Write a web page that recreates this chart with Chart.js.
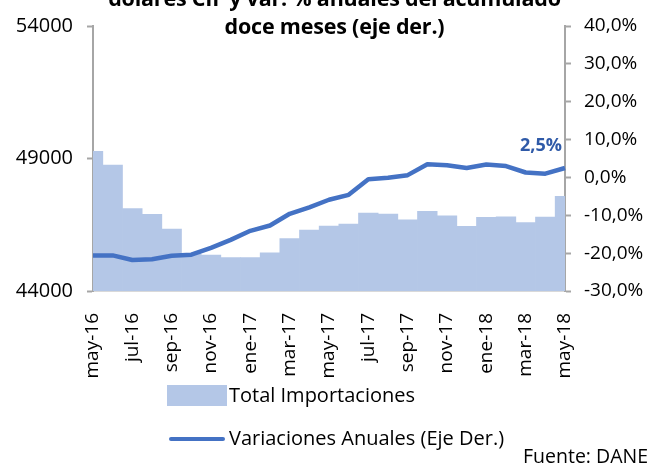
<!DOCTYPE html>
<html>
<head>
<meta charset="utf-8">
<script src="https://cdn.jsdelivr.net/npm/chart.js@4/dist/chart.umd.min.js"></script>
<style>
  html, body { margin: 0; padding: 0; background: #ffffff; }
  #wrap { position: relative; width: 667px; height: 465px; overflow: hidden; font-family: "Open Sans", sans-serif; color: #000; }
  #c { position: absolute; left: 0; top: 0; }
  .t { position: absolute; white-space: nowrap; font-size: 20px; line-height: 27px; }
  #title { left: 0; width: 669px; top: -16px; text-align: center; font-weight: bold; font-size: 21.5px; line-height: 28px; letter-spacing: -0.2px; }
  #lgBox { position: absolute; left: 167px; top: 385px; width: 60px; height: 21px; background: #b4c7e7; }
  #lgLine { position: absolute; left: 169px; top: 437px; width: 56px; height: 4px; background: #4472c4; border-radius: 2px; }
</style>
</head>
<body>
<div id="wrap">
  <canvas id="c" width="667" height="465"></canvas>
  <div id="title" class="t">dólares CIF y var. % anuales del acumulado<br>doce meses (eje der.)</div>
  <div id="lgBox"></div>
  <div class="t" style="left:229px; top:381px;">Total Importaciones</div>
  <div id="lgLine"></div>
  <div class="t" style="left:229px; top:424px;">Variaciones Anuales (Eje Der.)</div>
  <div class="t" style="left:523px; top:442px; font-size:19.5px;">Fuente: DANE</div>
</div>
<script>
const months = ['may-16','jun-16','jul-16','ago-16','sep-16','oct-16','nov-16','dic-16','ene-17','feb-17','mar-17','abr-17','may-17','jun-17','jul-17','ago-17','sep-17','oct-17','nov-17','dic-17','ene-18','feb-18','mar-18','abr-18','may-18'];
const totalImportaciones = [49270, 48750, 47110, 46890, 46340, 45390, 45360, 45260, 45260, 45440, 45980, 46300, 46450, 46530, 46940, 46900, 46690, 47010, 46840, 46440, 46780, 46800, 46580, 46790, 47570];
const variacionesAnuales = [-20.6, -20.6, -21.8, -21.6, -20.7, -20.4, -18.6, -16.5, -14.1, -12.7, -9.6, -7.9, -5.9, -4.6, -0.5, -0.1, 0.6, 3.5, 3.2, 2.5, 3.4, 3.0, 1.3, 1.0, 2.5];
const leftTicks = { min: 44000, max: 54000, step: 5000 };
const rightTicks = { min: -30, max: 40, step: 10 };

const fmtPct = v => v.toFixed(1).replace('.', ',') + '%';
const FONT = { family: '"Open Sans", sans-serif', size: 19 };

const lastLabel = {
  id: 'lastLabel',
  afterDatasetsDraw(chart) {
    const meta = chart.getDatasetMeta(1);
    const i = variacionesAnuales.length - 1;
    const pt = meta.data[i];
    const ctx = chart.ctx;
    ctx.save();
    ctx.font = 'bold 18px "Open Sans", sans-serif';
    ctx.fillStyle = '#2f5aa8';
    ctx.textAlign = 'right';
    ctx.textBaseline = 'middle';
    ctx.fillText(fmtPct(variacionesAnuales[i]), pt.x - 3, pt.y - 22);
    ctx.restore();
  }
};

new Chart(document.getElementById('c'), {
  data: {
    labels: months,
    datasets: [
      {
        type: 'bar',
        label: 'Total Importaciones',
        data: totalImportaciones,
        backgroundColor: '#b4c7e7',
        borderWidth: 0,
        barPercentage: 1.0,
        categoryPercentage: 1.0,
        yAxisID: 'y',
        order: 2,
        clip: 0
      },
      {
        type: 'line',
        label: 'Variaciones Anuales (Eje Der.)',
        data: variacionesAnuales,
        borderColor: '#4472c4',
        borderWidth: 4.5,
        pointRadius: 0,
        tension: 0,
        borderJoinStyle: 'round',
        yAxisID: 'y1',
        order: 1
      }
    ]
  },
  options: {
    responsive: false,
    animation: false,
    devicePixelRatio: 1,
    layout: { padding: { top: 22, left: 0, right: 0, bottom: 0 } },
    plugins: { legend: { display: false }, title: { display: false }, tooltip: { enabled: false } },
    scales: {
      x: {
        type: 'category',
        offset: false,
        grid: { display: false, offset: false },
        border: { display: true, color: '#d9d9d9', width: 2 },
        ticks: {
          autoSkip: false,
          maxRotation: 90,
          minRotation: 90,
          padding: 14,
          color: '#000',
          font: FONT,
          callback: (v, i) => (i % 2 === 0 ? months[i] : '')
        },
        afterFit: s => { s.height = 174; }
      },
      y: {
        position: 'left',
        min: leftTicks.min,
        max: leftTicks.max,
        grid: { drawOnChartArea: false, drawTicks: true, tickLength: 6, tickColor: '#a6a6a6', tickWidth: 2 },
        border: { display: true, color: '#a6a6a6', width: 2 },
        ticks: { stepSize: leftTicks.step, padding: 14, color: '#000', font: { family: FONT.family, size: 20 }, callback: v => String(v) },
        afterFit: s => { s.width = 93; }
      },
      y1: {
        position: 'right',
        min: rightTicks.min,
        max: rightTicks.max,
        grid: { drawOnChartArea: false, drawTicks: true, tickLength: 6, tickColor: '#a6a6a6', tickWidth: 2 },
        border: { display: true, color: '#a6a6a6', width: 2 },
        ticks: { stepSize: rightTicks.step, padding: 13, color: '#000', font: FONT, callback: v => fmtPct(v) },
        afterFit: s => { s.width = 102; }
      }
    }
  },
  plugins: [lastLabel]
});
</script>
</body>
</html>
